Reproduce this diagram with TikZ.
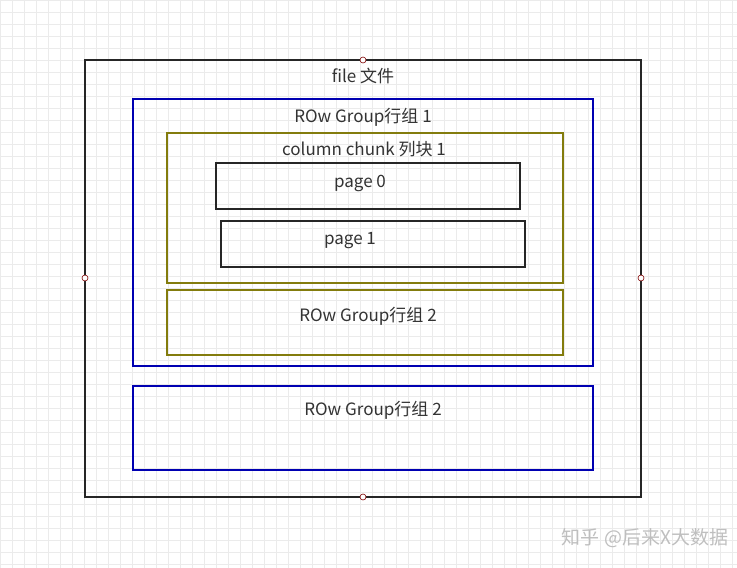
\documentclass[tikz,border=0pt]{standalone}
\usepackage{fontspec}
\setmainfont{Noto Sans CJK SC}
\begin{document}
\begin{tikzpicture}[x=1pt,y=-1pt,
  box/.style={draw,line width=1.3pt},
  lbl/.style={font=\fontsize{17}{19}\selectfont,text=black!80},
  port/.style={circle,draw=red!50!black,fill=white,inner sep=0pt,minimum size=6pt,line width=0.6pt}]
\useasboundingbox (0,0) rectangle (737,568);
\fill[white] (0,0) rectangle (737,568);
\foreach \i in {0,12,...,732} \draw[black!8,line width=0.5pt] (\i,0) -- (\i,568);
\foreach \j in {0,12,...,564} \draw[black!8,line width=0.5pt] (0,\j) -- (737,\j);
\draw[box,black!85] (85,60) rectangle (641,497);
\node[lbl] (file) at (363,76) {file 文件};
\draw[box,blue!70!black] (133,99) rectangle (593,366);
\node[lbl] (rg1) at (363,117) {ROw Group行组 1};
\draw[box,olive!90!black] (167,133) rectangle (563,283);
\node[lbl] (cc) at (364,149) {column chunk 列块 1};
\draw[box,black!85] (216,163) rectangle (520,209);
\node[lbl] (p0) at (360,183) {page 0};
\draw[box,black!85] (221,221) rectangle (525,267);
\node[lbl] (p1) at (350,241) {page 1};
\draw[box,olive!90!black] (167,290) rectangle (563,355);
\node[lbl] (rg2a) at (368,316) {ROw Group行组 2};
\draw[box,blue!70!black] (133,386) rectangle (593,470);
\node[lbl] (rg2b) at (373,410) {ROw Group行组 2};
\node[port] (t) at (363,60) {};
\node[port] (l) at (85,278) {};
\node[port] (r) at (641,278) {};
\node[port] (b) at (363,497) {};
\node[font=\fontsize{19}{21}\selectfont,text=black!25] (wm) at (645,538) {知乎 @后来X大数据};
\end{tikzpicture}
\end{document}
